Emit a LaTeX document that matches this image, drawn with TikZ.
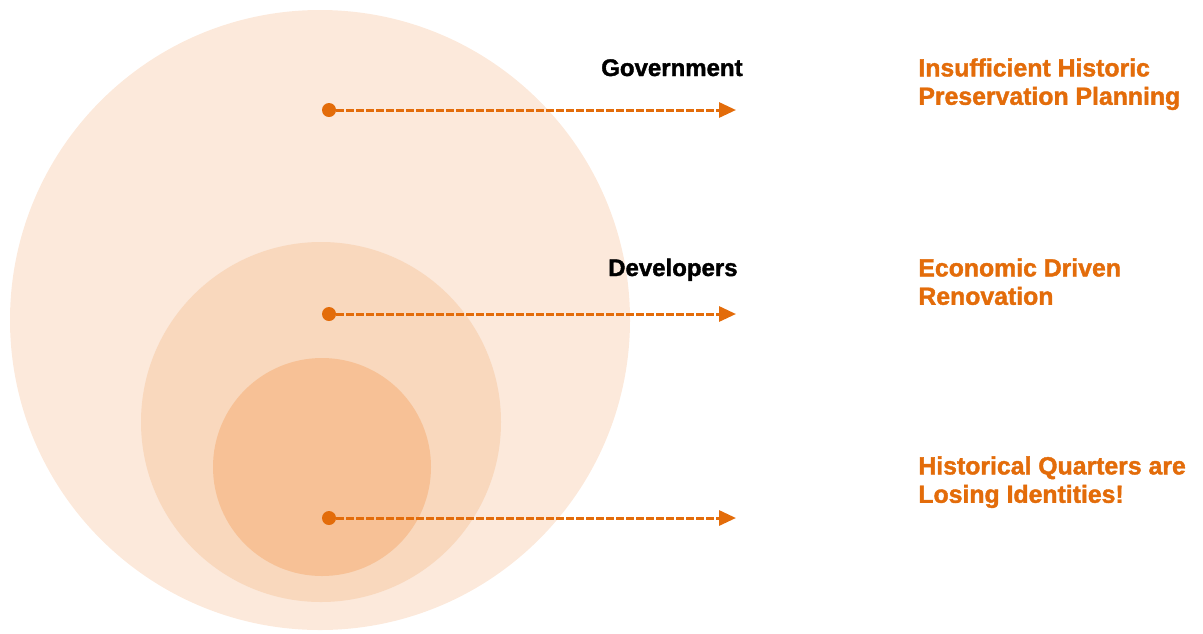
\documentclass[tikz,border=0pt]{standalone}
\usepackage{fontspec}
\setmainfont{Liberation Sans}[BoldFeatures={FakeBold=1.6}]
\usetikzlibrary{arrows.meta, positioning}
\definecolor{peach1}{RGB}{252,233,219}
\definecolor{peach2}{RGB}{249,216,189}
\definecolor{peach3}{RGB}{247,193,150}
\definecolor{orange1}{RGB}{227,108,10}

\begin{document}
\begin{tikzpicture}[x=0.5pt, y=-0.5pt,
    ring/.style={shape=circle, inner sep=0pt, draw=none},
    dot/.style={shape=circle, fill=orange1, inner sep=0pt, minimum size=7pt},
    actor/.style={font=\bfseries\fontsize{12}{14}\selectfont, anchor=base east, inner sep=0pt},
    issue/.style={font=\bfseries\fontsize{12.4}{14.2}\selectfont, text=orange1, align=left, anchor=north west, inner sep=0pt},
    dasharrow/.style={draw=orange1, line width=1.5pt, dash pattern=on 3.6pt off 1.4pt, -{Triangle[length=8.5pt, width=7.5pt]}}
]
        \useasboundingbox (0,0) rectangle (1203,633);

        % nested rings
        \node[ring, fill=peach1, minimum size=310pt, name=outer] at(320,320) {};
        \node[ring, fill=peach2, minimum size=180pt, name=middle] at(321,422) {};
        \node[ring, fill=peach3, minimum size=109pt, name=inner] at(322,467) {};

        \node[dot, name=dotG] at(329,110) {};
        \node[dot, name=dotD] at(329,314) {};
        \node[dot, name=dotH] at(329,518) {};

        \coordinate (endG) at(736,110);
        \coordinate (endD) at(736,314);
        \coordinate (endH) at(736,518);

        \node[actor, name=gov] at(743,76) {Government};
        \node[actor, name=dev] at(738,276) {Developers};

        \node[issue, name=issueG] at(918,58) {Insufficient Historic\\Preservation Planning};
        \node[issue, name=issueD] at(918,258) {Economic Driven\\Renovation};
        \node[issue, name=issueH] at(918,456) {Historical Quarters are\\Losing Identities!};

        \draw[dasharrow] (dotG) -- (endG);
        \draw[dasharrow] (dotD) -- (endD);
        \draw[dasharrow] (dotH) -- (endH);
\end{tikzpicture}
\end{document}
